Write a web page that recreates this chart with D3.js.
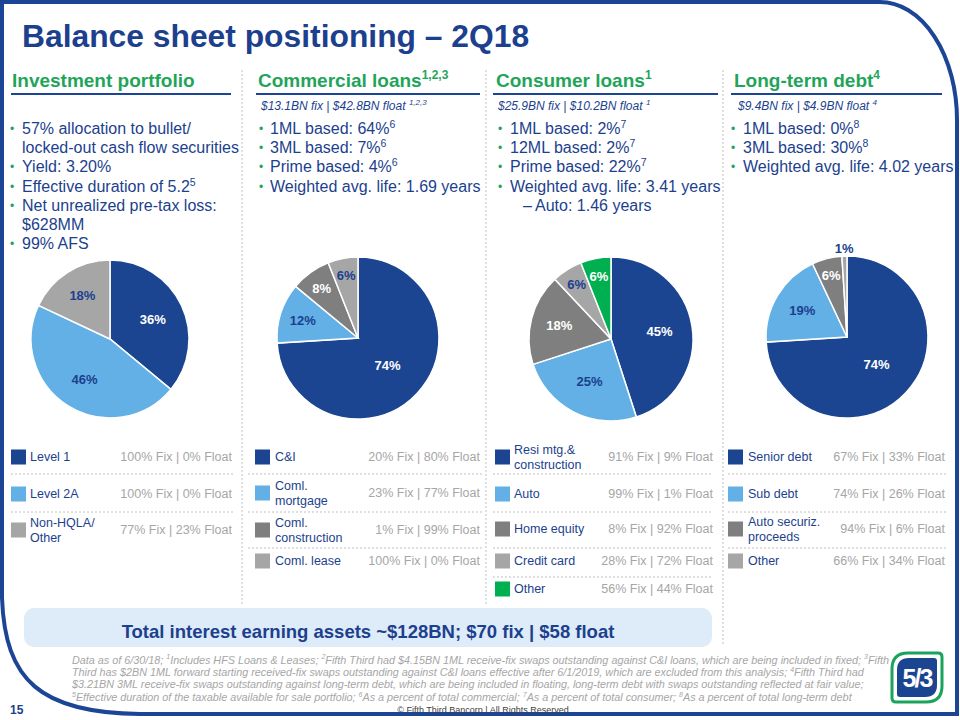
<!DOCTYPE html>
<html><head><meta charset="utf-8">
<script src="https://cdn.jsdelivr.net/npm/d3@7"></script>
<style>body{margin:0;background:#fff}svg{display:block}text{font-family:"Liberation Sans",Arial,sans-serif}</style>
</head><body><svg id="c" width="960" height="720"></svg>
<script>
// ---------------- DATA ----------------
const title = "Balance sheet positioning \u2013 2Q18";
const headers = ["Investment portfolio", "Commercial loans{1,2,3}", "Consumer loans{1}", "Long-term debt{4}"];
const subtitles = ["", "$13.1BN fix | $42.8BN float {1,2,3}", "$25.9BN fix | $10.2BN float {1}", "$9.4BN fix | $4.9BN float {4}"];

const invBullets = ["*57% allocation to bullet/", " locked-out cash flow securities", "*Yield: 3.20%", "*Effective duration of 5.2{5}", "*Net unrealized pre-tax loss:", " $628MM", "*99% AFS"];
const comBullets = ["*1ML based: 64%{6}", "*3ML based: 7%{6}", "*Prime based: 4%{6}", "*Weighted avg. life: 1.69 years"];
const conBullets = ["*1ML based: 2%{7}", "*12ML based: 2%{7}", "*Prime based: 22%{7}", "*Weighted avg. life: 3.41 years", "-Auto: 1.46 years"];
const ltdBullets = ["*1ML based: 0%{8}", "*3ML based: 30%{8}", "*Weighted avg. life: 4.02 years"];

const invLabels = ["Level 1", "Level 2A", "Non-HQLA/|Other"];
const invShares = [36, 46, 18];
const invFixFloat = ["100% Fix | 0% Float", "100% Fix | 0% Float", "77% Fix | 23% Float"];

const comLabels = ["C&I", "Coml.|mortgage", "Coml.|construction", "Coml. lease"];
const comShares = [74, 12, 8, 6];
const comFixFloat = ["20% Fix | 80% Float", "23% Fix | 77% Float", "1% Fix | 99% Float", "100% Fix | 0% Float"];

const conLabels = ["Resi mtg.&|construction", "Auto", "Home equity", "Credit card", "Other"];
const conShares = [45, 25, 18, 6, 6];
const conFixFloat = ["91% Fix | 9% Float", "99% Fix | 1% Float", "8% Fix | 92% Float", "28% Fix | 72% Float", "56% Fix | 44% Float"];

const ltdLabels = ["Senior debt", "Sub debt", "Auto securiz.|proceeds", "Other"];
const ltdShares = [74, 19, 6, 1];
const ltdFixFloat = ["67% Fix | 33% Float", "74% Fix | 26% Float", "94% Fix | 6% Float", "66% Fix | 34% Float"];

const totalText = "Total interest earning assets ~$128BN; $70 fix | $58 float";
const footnotes = [
  "Data as of 6/30/18; {1}Includes HFS Loans & Leases; {2}Fifth Third had $4.15BN 1ML receive-fix swaps outstanding against C&I loans, which are being included in fixed; {3}Fifth",
  "Third has $2BN 1ML forward starting received-fix swaps outstanding against C&I loans effective after 6/1/2019, which are excluded from this analysis; {4}Fifth Third had",
  "$3.21BN 3ML receive-fix swaps outstanding against long-term debt, which are being included in floating, long-term debt with swaps outstanding reflected at fair value;",
  "{5}Effective duration of the taxable available for sale portfolio; {6}As a percent of total commercial; {7}As a percent of total consumer; {8}As a percent of total long-term debt"
];
const copyright = "\u00A9 Fifth Third Bancorp | All Rights Reserved";
const pageNo = "15";

// ---------------- STYLE ----------------
const C = {
  frame: "#1d4596", text: "#1c3f8e", green: "#1fa55a",
  dblue: "#1c4591", lblue: "#63b0e6", dgray: "#7f7f7f", lgray: "#a6a6a6", pgreen: "#00b050",
  val: "#a6a6a6", dash: "#bfbfbf", box: "#deebf8"
};
const sliceColors = [
  [C.dblue, C.lblue, C.lgray],
  [C.dblue, C.lblue, C.dgray, C.lgray],
  [C.dblue, C.lblue, C.dgray, C.lgray, C.pgreen],
  [C.dblue, C.lblue, C.dgray, C.lgray]
];
const labelColor = c => (c === C.lblue || c === C.lgray) ? C.text : "#fff";

const svg = d3.select("#c");

function rich(sel, str, size, supSize) {
  const parts = str.split(/(\{[^}]*\})/).filter(s => s.length);
  let shifted = false;
  parts.forEach(p => {
    if (p.startsWith("{")) {
      sel.append("tspan").attr("font-size", supSize).attr("dy", -size * 0.38).text(p.slice(1, -1));
      shifted = true;
    } else {
      const t = sel.append("tspan").text(p);
      if (shifted) { t.attr("dy", size * 0.38); shifted = false; }
    }
  });
  return sel;
}

// ---------------- FRAME ----------------
svg.append("path")
  .attr("d", "M2,2 H880 A77,118 0 0 1 957,120 V714 H140 C40,713 5,680 2,598 Z")
  .attr("fill", "none").attr("stroke", C.frame).attr("stroke-width", 4);

svg.append("text").attr("x", 22).attr("y", 47).attr("font-size", 31.8).attr("font-weight", "bold")
  .attr("fill", C.text).text(title);

// ---------------- LAYOUT ----------------
const cols = [
  { hx: 12, u: [11, 231], sx: 0, bx: 12, tx: 22, pie: [110, 339, 79], sw: 11, lx: 30, vx: 232, sep: [11, 234],
    rows: [457, 494, 530], seps: [474, 512], bullets: invBullets, labels: invLabels, shares: invShares, ff: invFixFloat },
  { hx: 258, u: [256, 480], sx: 261, bx: 261, tx: 270, pie: [358, 338, 81], sw: 255, lx: 275, vx: 480, sep: [248, 482],
    rows: [457, 493, 530, 561], seps: [474, 512, 548], bullets: comBullets, labels: comLabels, shares: comShares, ff: comFixFloat },
  { hx: 496, u: [493, 718], sx: 498, bx: 500, tx: 510, pie: [611, 339, 82], sw: 495, lx: 514, vx: 713, sep: [493, 713],
    rows: [457, 494, 529, 561, 589], seps: [474, 512, 548, 577], bullets: conBullets, labels: conLabels, shares: conShares, ff: conFixFloat },
  { hx: 734, u: [731, 942], sx: 738, bx: 733, tx: 743, pie: [847, 337, 81], sw: 728, lx: 748, vx: 945, sep: [728, 948],
    rows: [457, 494, 529, 561], seps: [474, 512, 548], bullets: ltdBullets, labels: ltdLabels, shares: ltdShares, ff: ltdFixFloat }
];

// vertical dashed dividers
[[242, 605], [486, 605], [723, 646]].forEach(([x, y2]) => {
  svg.append("line").attr("x1", x).attr("x2", x).attr("y1", 70).attr("y2", y2)
    .attr("stroke", C.dash).attr("stroke-width", 1).attr("stroke-dasharray", "2,2");
});

cols.forEach((col, ci) => {
  const g = svg.append("g");
  // header
  rich(g.append("text").attr("x", col.hx).attr("y", 86.5).attr("font-size", 19).attr("font-weight", "bold")
    .attr("fill", C.green), headers[ci], 19, 12);
  g.append("line").attr("x1", col.u[0]).attr("x2", col.u[1]).attr("y1", 94).attr("y2", 94)
    .attr("stroke", C.frame).attr("stroke-width", 2);
  if (subtitles[ci]) {
    rich(g.append("text").attr("x", col.sx).attr("y", 109.5).attr("font-size", 12).attr("font-style", "italic")
      .attr("fill", C.text), subtitles[ci], 12, 8);
  }
  // bullets
  col.bullets.forEach((line, i) => {
    const y = 134 + i * 19.2;
    const kind = line[0], txt = line.slice(1);
    if (kind === "*") {
      g.append("text").attr("x", col.bx).attr("y", y - 1).attr("text-anchor", "middle").attr("font-size", 12)
        .attr("fill", C.green).text("\u2022");
      rich(g.append("text").attr("x", col.tx).attr("y", y).attr("font-size", 16).attr("fill", C.text), txt, 16, 10.5);
    } else if (kind === "-") {
      g.append("text").attr("x", col.tx + 13).attr("y", y).attr("font-size", 16).attr("fill", C.text).text("\u2013");
      rich(g.append("text").attr("x", col.tx + 25).attr("y", y).attr("font-size", 16).attr("fill", C.text), txt, 16, 10.5);
    } else {
      rich(g.append("text").attr("x", col.tx).attr("y", y).attr("font-size", 16).attr("fill", C.text), txt, 16, 10.5);
    }
  });

  // pie
  const [cx, cy, r] = col.pie;
  const pie = d3.pie().sort(null).value(d => d)(col.shares);
  const arc = d3.arc().innerRadius(0).outerRadius(r);
  const total = d3.sum(col.shares);
  const pg = g.append("g").attr("transform", `translate(${cx},${cy})`);
  pg.selectAll("path").data(pie).join("path")
    .attr("d", arc).attr("fill", (d, i) => sliceColors[ci][i])
    .attr("stroke", "#fff").attr("stroke-width", 1.5);
  pg.selectAll("text").data(pie).join("text")
    .attr("transform", d => {
      const f = d.value / total;
      const lr = r * (f < 0.03 ? 1.1 : f > 0.6 ? 0.5 : f >= 0.3 ? 0.6 : 0.85 - 1.1 * f);
      const a = (d.startAngle + d.endAngle) / 2;
      return `translate(${Math.sin(a) * lr},${-Math.cos(a) * lr})`;
    })
    .attr("text-anchor", "middle").attr("dy", "0.36em")
    .attr("font-size", 13).attr("font-weight", "bold")
    .attr("fill", (d, i) => d.value / total < 0.03 ? C.text : labelColor(sliceColors[ci][i]))
    .text(d => d.value + "%");

  // legend
  col.labels.forEach((lab, i) => {
    const yc = col.rows[i];
    g.append("rect").attr("x", col.sw).attr("y", yc - 7.5).attr("width", 15).attr("height", 15)
      .attr("fill", sliceColors[ci][i]);
    const lines = lab.split("|");
    lines.forEach((ln, j) => {
      const yy = yc + (j - (lines.length - 1) / 2) * 14.5 + 4.3;
      g.append("text").attr("x", col.lx).attr("y", yy).attr("font-size", 12.5).attr("fill", C.text).text(ln);
    });
    g.append("text").attr("x", col.vx).attr("y", yc + 4.3).attr("text-anchor", "end")
      .attr("font-size", 12.5).attr("fill", C.val).text(col.ff[i]);
  });
  col.seps.forEach(y => {
    g.append("line").attr("x1", col.sep[0]).attr("x2", col.sep[1]).attr("y1", y).attr("y2", y)
      .attr("stroke", C.dash).attr("stroke-width", 1).attr("stroke-dasharray", "2,2");
  });
});

// ---------------- TOTAL BOX ----------------
svg.append("rect").attr("x", 24).attr("y", 608).attr("width", 688).attr("height", 39).attr("rx", 10)
  .attr("fill", C.box);
svg.append("text").attr("x", 368).attr("y", 637.5).attr("text-anchor", "middle").attr("font-size", 18.5)
  .attr("font-weight", "bold").attr("fill", C.text).text(totalText);

// ---------------- FOOTNOTES ----------------
footnotes.forEach((fn, i) => {
  rich(svg.append("text").attr("x", 72).attr("y", 663.5 + i * 12.4).attr("font-size", 10.8)
    .attr("font-style", "italic").attr("fill", C.val), fn, 10.8, 7);
});
svg.append("text").attr("x", 483).attr("y", 713).attr("text-anchor", "middle").attr("font-size", 9)
  .attr("fill", "#404040").text(copyright);
svg.append("text").attr("x", 10).attr("y", 714).attr("font-size", 12).attr("font-weight", "bold")
  .attr("fill", C.text).text(pageNo);

// ---------------- LOGO ----------------
function rr(x, y, w, h, tl, tr, br, bl) {
  return `M${x + tl},${y} H${x + w - tr} Q${x + w},${y} ${x + w},${y + tr} V${y + h - br} Q${x + w},${y + h} ${x + w - br},${y + h} H${x + bl} Q${x},${y + h} ${x},${y + h - bl} V${y + tl} Q${x},${y} ${x + tl},${y} Z`;
}
const lg = svg.append("g");
lg.append("path").attr("d", rr(892, 653, 50, 49, 16, 4, 16, 4)).attr("fill", "#fff")
  .attr("stroke", "#1aa35a").attr("stroke-width", 3);
lg.append("path").attr("d", rr(897, 658, 40, 39, 12, 3, 12, 3)).attr("fill", C.dblue);
lg.append("text").attr("x", 917).attr("y", 687).attr("text-anchor", "middle").attr("font-size", 25)
  .attr("font-weight", "bold").attr("fill", "#fff").attr("letter-spacing", -2).text("5/3");
</script></body></html>
